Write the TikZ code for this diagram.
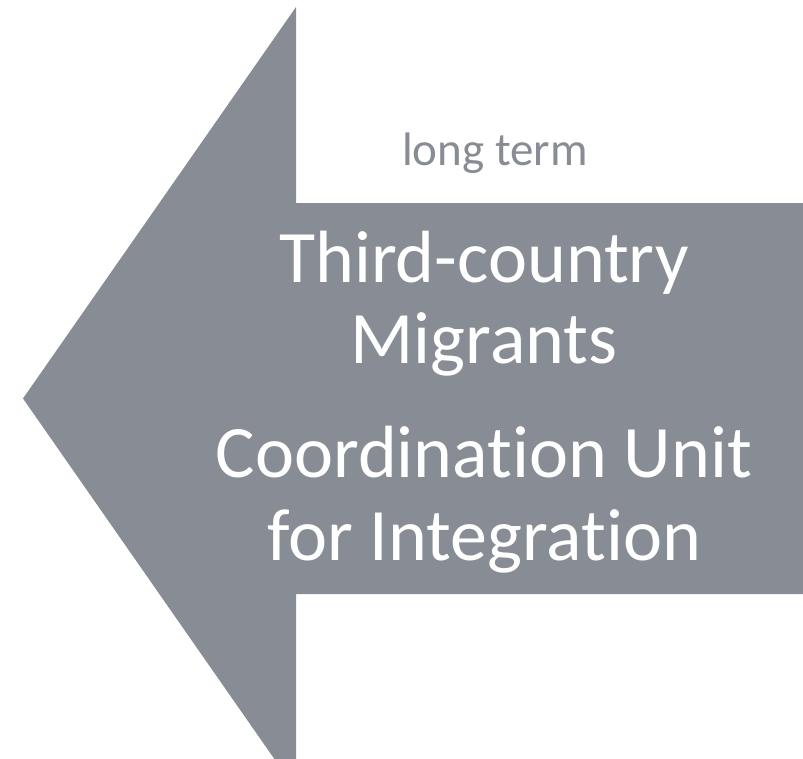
\documentclass[tikz,border=0pt]{standalone}
\usepackage{fontspec}
\setmainfont{Carlito}[Ligatures={NoCommon}]
\definecolor{arrowgray}{HTML}{878C95}
\begin{document}
\begin{tikzpicture}[x=1pt,y=-1pt,
  bigtxt/.style={text=white,font=\fontsize{74}{82}\selectfont,inner sep=0pt,anchor=base},
  smalltxt/.style={text=arrowgray,font=\fontsize{47}{56}\selectfont,inner sep=0pt,anchor=base}]
\useasboundingbox (0,0) rectangle (803,758);
\clip (0,0) rectangle (803,758);
\fill[arrowgray] (23,398.5) -- (296,7) -- (296,203) -- (810,203) -- (810,594) -- (296,594) -- (296,790) -- cycle;
\node[smalltxt] (lt) at (495,165) {long term};
\node[bigtxt] (t1) at (484,282) {Third-country};
\node[bigtxt] (t2) at (484,363) {Migrants};
\node[bigtxt] (t3) at (484,477) {Coordination Unit};
\node[bigtxt] (t4) at (484,560) {for Integration};
\end{tikzpicture}
\end{document}
